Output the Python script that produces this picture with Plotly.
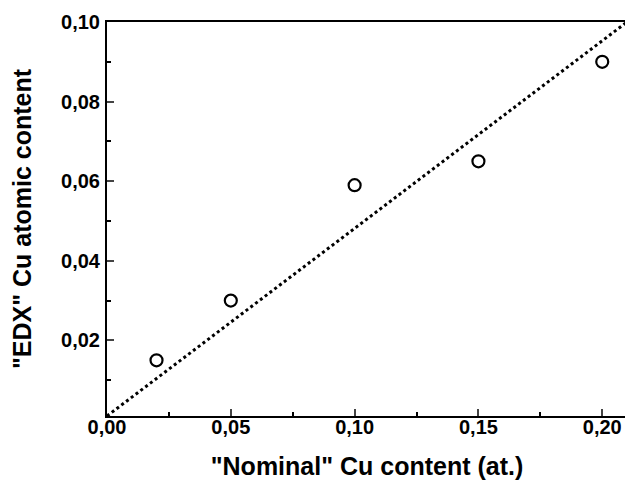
import plotly.graph_objects as go

nominal = [0.02, 0.05, 0.10, 0.15, 0.20]
edx = [0.015, 0.030, 0.059, 0.065, 0.090]
line_x = [0.0, 0.21]
line_y = [0.001, 0.100]

fig = go.Figure()
fig.add_trace(go.Scatter(x=line_x, y=line_y, mode="lines",
                         line=dict(color="black", width=3, dash="dot"),
                         showlegend=False, hoverinfo="skip"))
fig.add_trace(go.Scatter(x=nominal, y=edx, mode="markers",
                         marker=dict(symbol="circle-open", size=12,
                                     color="black", line=dict(width=2.2, color="black")),
                         showlegend=False))

ff = "Liberation Sans"
fig.update_layout(
    width=625, height=472,
    margin=dict(l=99, r=6, t=14, b=64),
    plot_bgcolor="white", paper_bgcolor="white",
    separators=",.",
    font=dict(family=ff, color="black"),
    xaxis=dict(range=[0, 0.21], tickvals=[0, 0.05, 0.10, 0.15, 0.20],
               tickformat=".2f", ticks="inside", ticklen=7, tickwidth=1.5,
               minor=dict(tickvals=[0.025, 0.075, 0.125, 0.175], ticks="inside",
                          ticklen=4, tickwidth=1.5, tickcolor="black"),
               showline=True, linecolor="black", linewidth=2, mirror=True,
               showgrid=False, zeroline=False, automargin=False,
               ticklabelstandoff=-8,
               tickfont=dict(size=20, family=ff, weight="bold"),
               title=dict(text="\"Nominal\" Cu content (at.)",
                          font=dict(size=25, family=ff, weight="bold"), standoff=20)),
    yaxis=dict(range=[0.001, 0.100], tickvals=[0.02, 0.04, 0.06, 0.08, 0.10],
               tickformat=".2f", ticks="inside", ticklen=7, tickwidth=1.5,
               minor=dict(tickvals=[0.01, 0.03, 0.05, 0.07, 0.09], ticks="inside",
                          ticklen=4, tickwidth=1.5, tickcolor="black"),
               showline=True, linecolor="black", linewidth=2, mirror=True,
               showgrid=False, zeroline=False, automargin=False,
               ticklabelstandoff=1,
               tickfont=dict(size=20, family=ff, weight="bold"),
               title=dict(text="\"EDX\" Cu atomic content",
                          font=dict(size=25, family=ff, weight="bold"), standoff=22)),
)
fig.write_html("out.html")
